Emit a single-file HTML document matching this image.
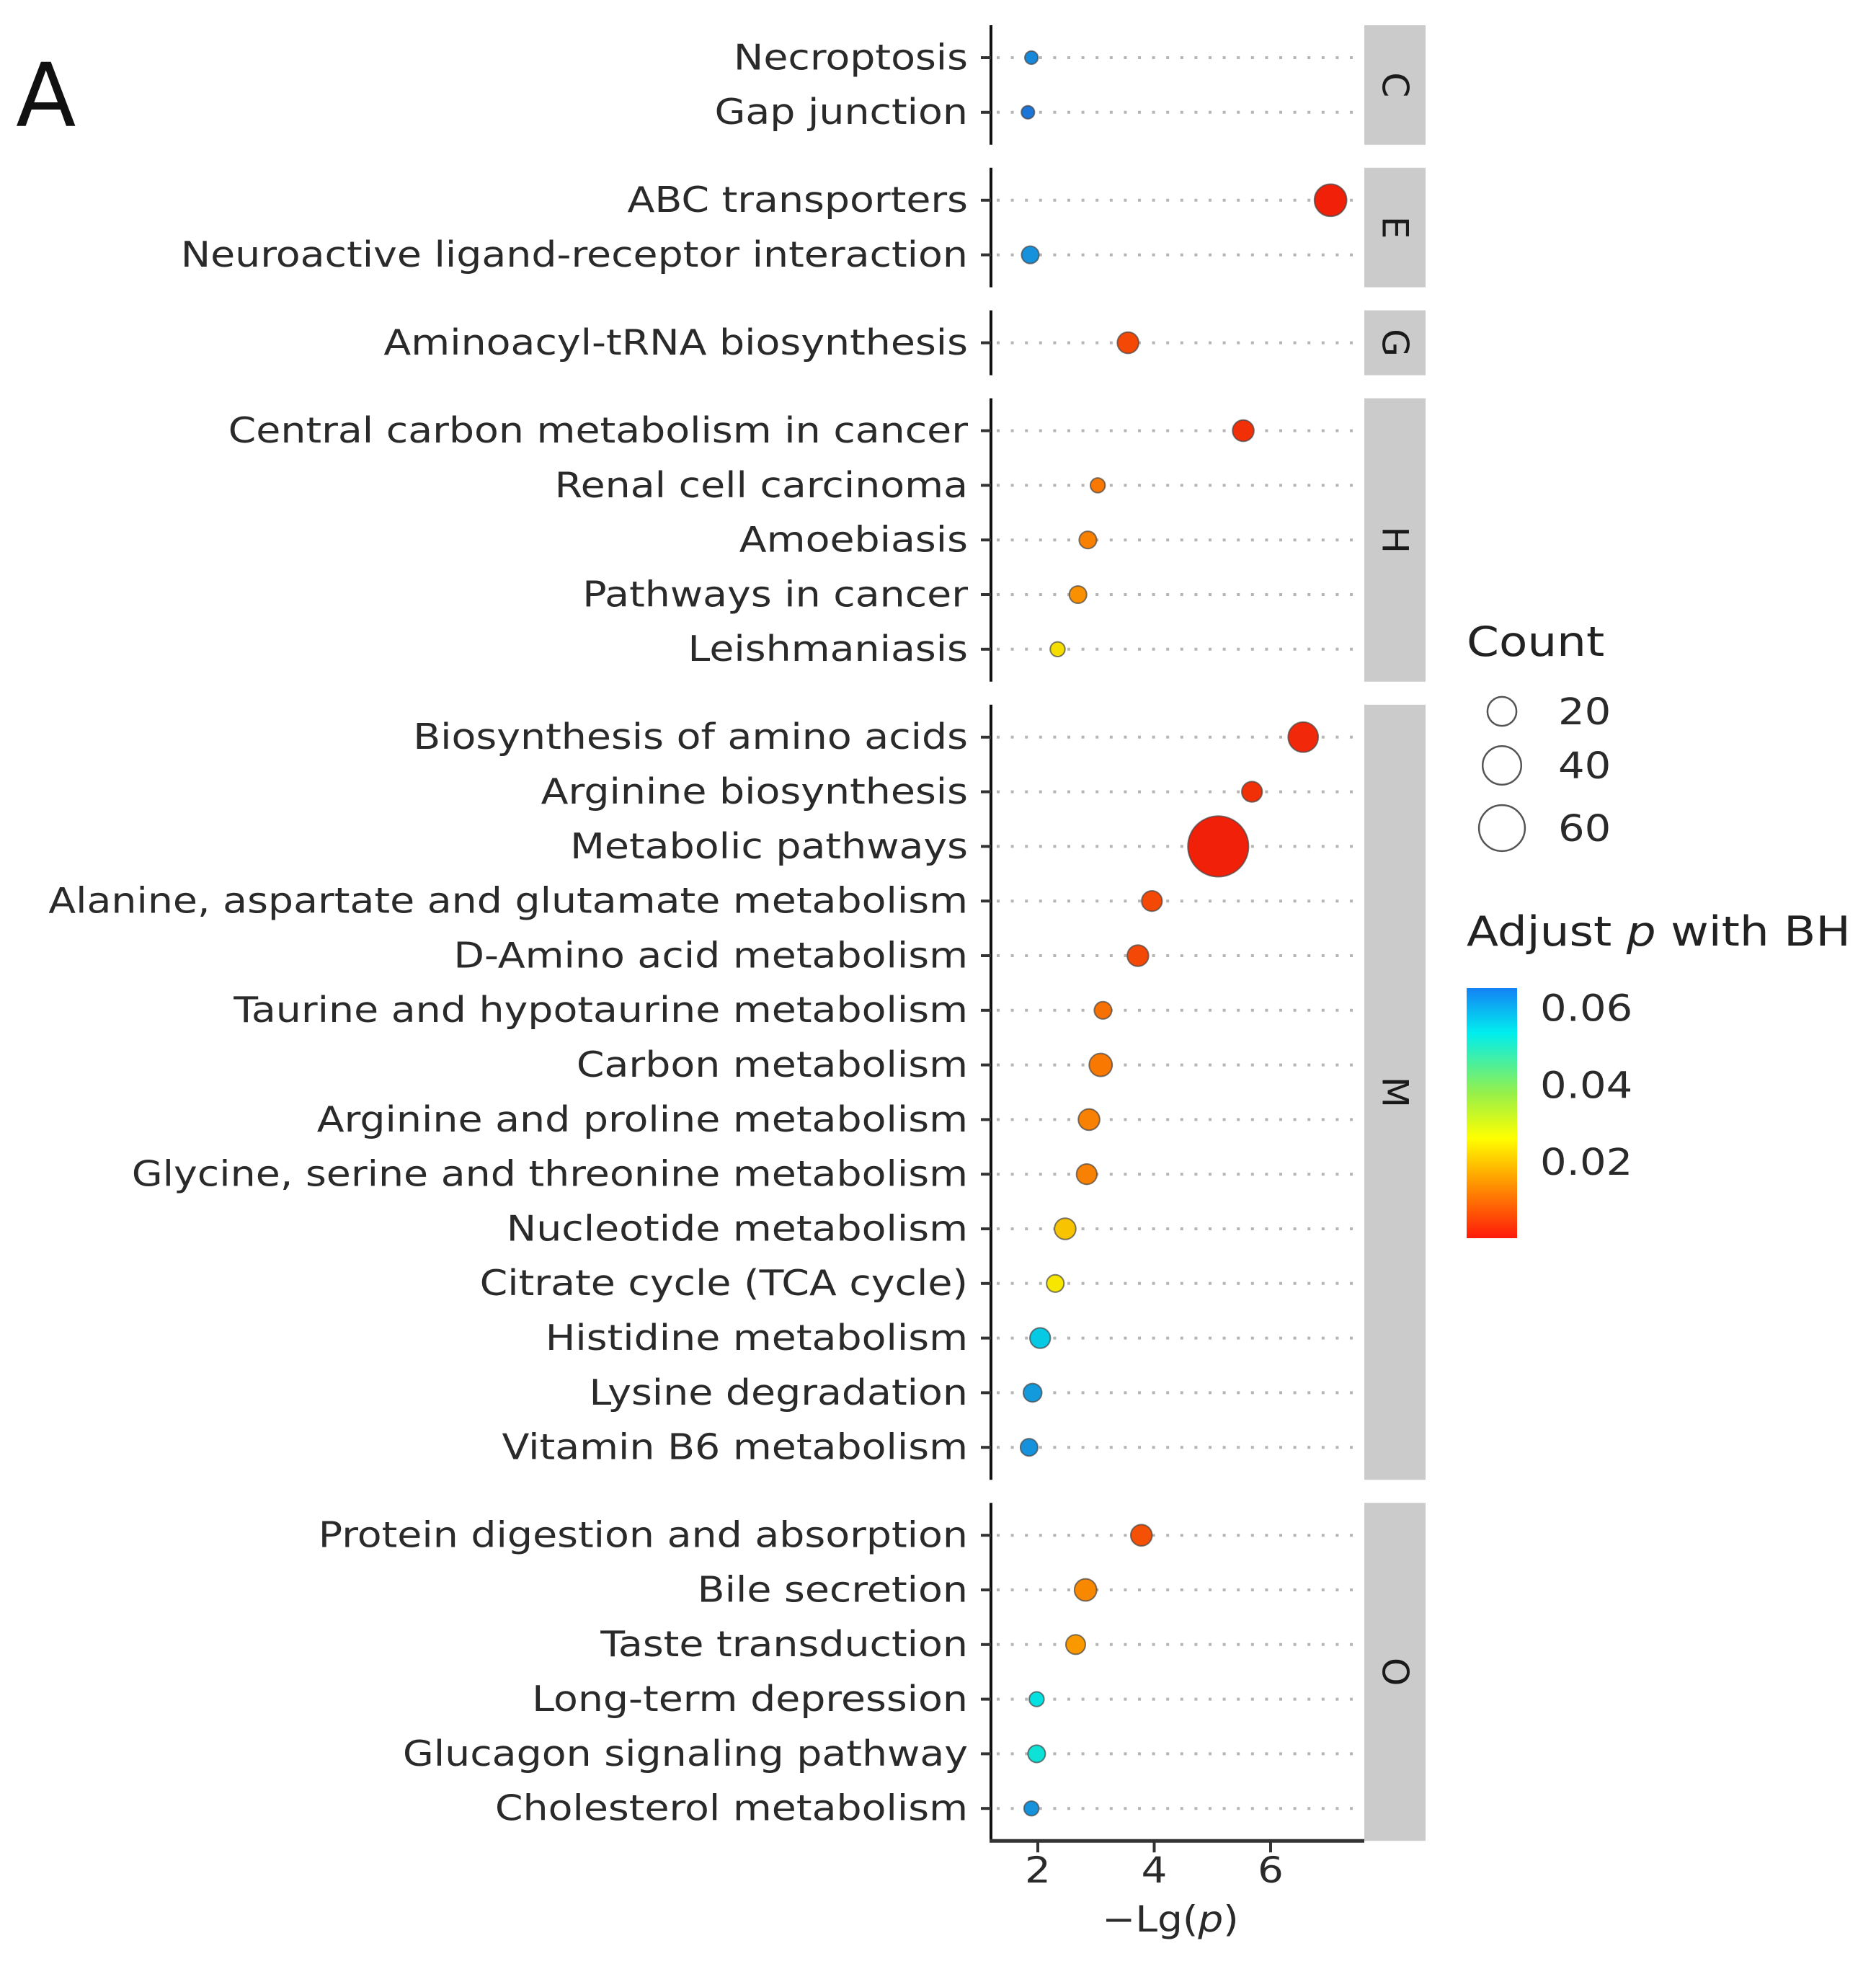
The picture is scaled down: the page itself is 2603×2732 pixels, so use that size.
<!DOCTYPE html>
<html><head><meta charset="utf-8"><style>
html,body{margin:0;padding:0;background:#fff;}
svg{display:block;font-family:"DejaVu Sans","Liberation Sans",sans-serif;}
</style></head><body>
<svg id="chart" width="2603" height="2732" viewBox="0 0 2603 2732" xmlns="http://www.w3.org/2000/svg">
<defs>
<linearGradient id="cbar" x1="0" y1="0" x2="0" y2="1">
<stop offset="0" stop-color="#1482f5"/>
<stop offset="0.18" stop-color="#00eeee"/>
<stop offset="0.42" stop-color="#96f04a"/>
<stop offset="0.6" stop-color="#ffff00"/>
<stop offset="0.76" stop-color="#ffa200"/>
<stop offset="1" stop-color="#ff1a0a"/>
</linearGradient>
</defs>
<text x="22" y="175" font-size="122" fill="#111">A</text>
<g id="plot"></g>
<g id="legend">
<text transform="translate(2035 910) scale(1.13 1)" font-size="57" fill="#222">Count</text>
<text transform="translate(2035 1312) scale(1.13 1)" font-size="57" fill="#222">Adjust <tspan font-style="italic">p</tspan> with BH</text>
<rect x="2035" y="1371" width="70" height="347" fill="url(#cbar)"/>
</g>
</svg>
<script>
const categories = ["Necroptosis","Gap junction","ABC transporters","Neuroactive ligand-receptor interaction","Aminoacyl-tRNA biosynthesis","Central carbon metabolism in cancer","Renal cell carcinoma","Amoebiasis","Pathways in cancer","Leishmaniasis","Biosynthesis of amino acids","Arginine biosynthesis","Metabolic pathways","Alanine, aspartate and glutamate metabolism","D-Amino acid metabolism","Taurine and hypotaurine metabolism","Carbon metabolism","Arginine and proline metabolism","Glycine, serine and threonine metabolism","Nucleotide metabolism","Citrate cycle (TCA cycle)","Histidine metabolism","Lysine degradation","Vitamin B6 metabolism","Protein digestion and absorption","Bile secretion","Taste transduction","Long-term depression","Glucagon signaling pathway","Cholesterol metabolism"];
const groups = ["C","C","E","E","G","H","H","H","H","H","M","M","M","M","M","M","M","M","M","M","M","M","M","M","O","O","O","O","O","O"];
const lgp = [1.89,1.83,7.03,1.87,3.55,5.53,3.03,2.86,2.69,2.34,6.56,5.68,5.10,3.96,3.72,3.12,3.08,2.88,2.84,2.47,2.30,2.04,1.91,1.85,3.78,2.82,2.65,1.98,1.98,1.89];
const counts = [2,2,26,5,9,9,3,5,5,3,22,8,112,8,9,5,11,9,8,9,5,8,6,5,9,10,7,3,5,3];
const padj = [0.063,0.065,0.001,0.062,0.006,0.003,0.012,0.013,0.015,0.024,0.002,0.003,0.001,0.006,0.006,0.011,0.012,0.013,0.013,0.021,0.025,0.056,0.061,0.062,0.007,0.014,0.016,0.053,0.052,0.062];
const xTicks = [2,4,6];
const sizeBreaks = [20,40,60];
const colorTicks = [0.06,0.04,0.02];

const NS="http://www.w3.org/2000/svg";
const plot=document.getElementById('plot');
const legend=document.getElementById('legend');
function mk(tag,attrs,parent){const e=document.createElementNS(NS,tag);for(const k in attrs)e.setAttribute(k,attrs[k]);(parent||plot).appendChild(e);return e;}
const AX=1375, PR=1893, SR=1978;
function xs(v){return 1440+(v-2)*80.75;}
function rs(c){return 4+3.6*Math.sqrt(c);}
const cStops=[[0,[30,115,215]],[0.18,[0,225,230]],[0.42,[150,235,74]],[0.6,[245,240,0]],[0.76,[250,150,0]],[1,[240,26,10]]];
function cs(p){let f=(0.0652-p)/0.065;f=Math.max(0,Math.min(1,f));
 for(let i=1;i<cStops.length;i++){if(f<=cStops[i][0]){const a=cStops[i-1],b=cStops[i];const t=(f-a[0])/(b[0]-a[0]);
 const c=a[1].map((v,j)=>Math.round(v+(b[1][j]-v)*t));return 'rgb('+c.join(',')+')';}}return 'rgb(240,26,10)';}
const STEP=75.8, PAD=45, GAP=32;
const ys=[];let y=80;
for(let i=0;i<categories.length;i++){if(i>0){y+=(groups[i]!==groups[i-1])?(2*PAD+GAP):STEP;}ys.push(y);}
const panels=[];
for(let i=0;i<groups.length;i++){if(i===0||groups[i]!==groups[i-1])panels.push({g:groups[i],s:i,e:i});else panels[panels.length-1].e=i;}
panels.forEach(p=>{
 const top=ys[p.s]-PAD, bot=ys[p.e]+PAD;
 const strip=mk('rect',{x:PR,y:top,width:SR-PR,height:bot-top,fill:'#cbcbcb'});
 
 
 const cx=(PR+SR)/2, cy=(top+bot)/2;
 const st=mk('text',{x:cx,y:cy,'font-size':50,fill:'#1a1a1a','text-anchor':'middle','dominant-baseline':'central',transform:'rotate(90 '+cx+' '+cy+')'});
 st.textContent=p.g;
 
 
 const ax=mk('line',{x1:AX,y1:top,x2:AX,y2:bot+(p.g==='O'?2:0),stroke:'#111','stroke-width':4});
 
 
});
for(let i=0;i<categories.length;i++){
 const yy=ys[i];
 const gl=mk('line',{x1:AX+8,y1:yy,x2:PR-2,y2:yy,stroke:'#b5b5b5','stroke-width':4,'stroke-dasharray':'4 15.6'});
 
 
 const tk=mk('line',{x1:AX-14,y1:yy,x2:AX,y2:yy,stroke:'#333','stroke-width':4});
 
 
 const t=mk('text',{x:0,y:0,'font-size':49,fill:'#2a2a2a','text-anchor':'end','dominant-baseline':'central',transform:'translate(1343 '+yy+') scale(1.13 1)'});
 t.textContent=categories[i];
 
 
}
for(let i=0;i<categories.length;i++){
 const c=mk('circle',{cx:xs(lgp[i]),cy:ys[i],r:rs(counts[i]),fill:cs(padj[i]),stroke:'#444','stroke-width':2,'stroke-opacity':0.7});
 
 
}
const AYB=ys[ys.length-1]+PAD;
const xa=mk('line',{x1:AX-2,y1:AYB,x2:PR,y2:AYB,stroke:'#333','stroke-width':5});


xTicks.forEach(v=>{
 const l=mk('line',{x1:xs(v),y1:AYB,x2:xs(v),y2:AYB+16,stroke:'#333','stroke-width':4});
 
 
 const t=mk('text',{x:0,y:0,'font-size':50,fill:'#2a2a2a','text-anchor':'middle',transform:'translate('+xs(v)+' 2612) scale(1.13 1)'});
 t.textContent=String(v);
 
 
});
const xt=mk('text',{x:0,y:0,'font-size':50,fill:'#2a2a2a','text-anchor':'middle',transform:'translate(1624 2680) scale(1.1 1)'});
xt.innerHTML='−Lg(<tspan font-style="italic">p</tspan>)';


const sizeY=[987,1062,1149];
sizeBreaks.forEach((b,i)=>{
 const c=mk('circle',{cx:2084,cy:sizeY[i],r:rs(b),fill:'none',stroke:'#555','stroke-width':2.5},legend);
 
 
 const t=mk('text',{x:0,y:0,'font-size':51,fill:'#2a2a2a','dominant-baseline':'central',transform:'translate(2162 '+sizeY[i]+') scale(1.13 1)'},legend);
 t.textContent=String(b);
 
 
});
colorTicks.forEach(v=>{
 const yy=1371+(0.0652-v)/0.065*347;
 const t=mk('text',{x:0,y:0,'font-size':51,fill:'#2a2a2a','dominant-baseline':'central',transform:'translate(2137 '+yy+') scale(1.13 1)'},legend);
 t.textContent=v.toFixed(2);
 
 
});
</script>
</body></html>
